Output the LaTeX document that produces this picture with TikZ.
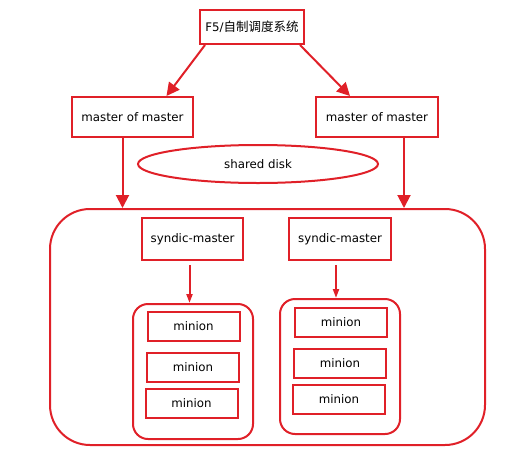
\documentclass[tikz,border=0pt]{standalone}
\usepackage{fontspec}
\setmainfont{DejaVu Sans}
\newfontfamily\cjk{Noto Sans CJK SC}
\usetikzlibrary{arrows.meta,shapes.geometric}
\definecolor{linered}{RGB}{224,32,40}
\begin{document}
\begin{tikzpicture}[
  x=1pt, y=-1pt,
  box/.style={rectangle, draw=linered, line width=2pt, inner sep=0pt, font=\fontsize{11.8}{13}\selectfont},
  minionbox/.style={box, minimum width=92pt, minimum height=29pt},
  group/.style={rectangle, draw=linered, line width=2pt, rounded corners=15pt, minimum width=120pt, minimum height=135pt},
  bigarrow/.style={draw=linered, line width=2pt, -{Triangle[length=13pt,width=13pt]}, linered},
  smallarrow/.style={draw=linered, line width=2pt, -{Triangle[length=9pt,width=6pt]}, linered},
]
\useasboundingbox (0,0) rectangle (516,455);

% Scheduler
\node[box, minimum width=104pt, minimum height=34pt] (sched) at (252,27)
  {F5/{\cjk\fontsize{12.5}{14}\selectfont 自制调度系统}};

% Masters of masters
\node[box, minimum width=121pt, minimum height=40pt] (momleft) at (132.5,117) {master of master};
\node[box, minimum width=122pt, minimum height=40pt] (momright) at (377,117) {master of master};

% Shared disk
\node[ellipse, draw=linered, line width=2pt, minimum width=240pt, minimum height=38pt,
  inner sep=0pt, font=\fontsize{11.8}{13}\selectfont] (disk) at (258,164) {shared disk};

% Syndic cluster
\node[rectangle, draw=linered, line width=2pt, rounded corners=40pt,
  minimum width=435pt, minimum height=236pt] (cluster) at (267.5,327) {};

\node[box, minimum width=101pt, minimum height=42pt] (syndicleft) at (192.5,239) {syndic-master};
\node[box, minimum width=102pt, minimum height=42pt] (syndicright) at (340,239) {syndic-master};

% Minion groups
\node[group] (groupleft) at (193,371.5) {};
\node[group] (groupright) at (340,366.5) {};

\node[minionbox] (minionla) at (193.5,326.5) {minion};
\node[minionbox] (minionlb) at (193,367.5) {minion};
\node[minionbox] (minionlc) at (191.5,403.5) {minion};

\node[minionbox] (minionra) at (341,322.5) {minion};
\node[minionbox] (minionrb) at (340,363) {minion};
\node[minionbox] (minionrc) at (339,399) {minion};

% Connections
\draw[bigarrow] ([xshift=6pt]sched.south west) -- ([xshift=34pt]momleft.north);
\draw[bigarrow] ([xshift=-5pt]sched.south east) -- ([xshift=-27pt]momright.north);
\draw[bigarrow] ([xshift=-10pt]momleft.south) -- ([xshift=-10pt]momleft.south |- cluster.north);
\draw[bigarrow] ([xshift=27pt]momright.south) -- ([xshift=27pt]momright.south |- cluster.north);
\draw[smallarrow, shorten <=4pt] ([xshift=-3pt]syndicleft.south) -- ([xshift=-3pt]syndicleft.south |- groupleft.north);
\draw[smallarrow, shorten <=4pt] ([xshift=-4pt]syndicright.south) -- ([xshift=-4pt]syndicright.south |- groupright.north);
\end{tikzpicture}
\end{document}
